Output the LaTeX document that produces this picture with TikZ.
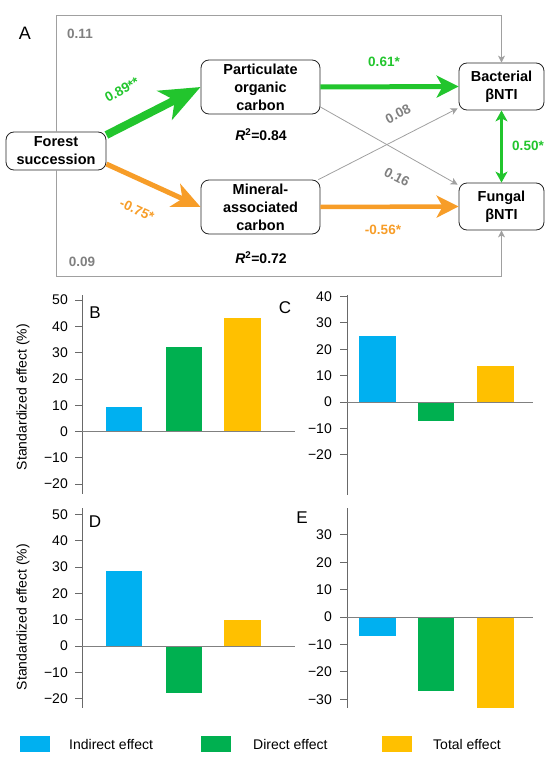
\documentclass[tikz,border=0pt]{standalone}
\usepackage{fontspec}
\setmainfont{Liberation Sans}
\usetikzlibrary{arrows.meta}
\definecolor{pgreen}{RGB}{34,197,45}
\definecolor{porange}{RGB}{247,157,40}
\definecolor{lgray}{RGB}{160,160,160}
\definecolor{tgray}{RGB}{128,128,128}
\definecolor{agray}{RGB}{105,105,105}
\definecolor{bblue}{RGB}{0,176,240}
\definecolor{bgreen}{RGB}{0,176,80}
\definecolor{byellow}{RGB}{255,192,0}
\newcommand{\ticknum}[1]{\ifnum#1<0 −\number\numexpr-#1\relax\else#1\fi}
\begin{document}
\begin{tikzpicture}[x=1pt,y=-1pt,
  varbox/.style={draw=black!85, line width=0.8pt, rounded corners=8pt, fill=white, align=center, inner sep=0pt,
    font=\bfseries\fontsize{14.5}{18}\selectfont},
  lab/.style={font=\bfseries\fontsize{13.5}{15}\selectfont, inner sep=0pt},
  thinarrow/.style={draw=lgray, line width=0.8pt, -{Stealth[length=7pt,width=7pt,inset=2pt]}},
  axisline/.style={draw=agray, line width=0.8pt},
  zeroline/.style={draw=tgray, line width=0.8pt},
  ticklab/.style={font=\fontsize{14}{16}\selectfont, inner sep=0pt, anchor=east},
  panlab/.style={font=\fontsize{17}{19}\selectfont, inner sep=0pt},
  ylab/.style={font=\fontsize{14}{16}\selectfont, rotate=90, inner sep=0pt},
  leglab/.style={font=\fontsize{14}{16}\selectfont, inner sep=0pt, anchor=west}
]
\useasboundingbox (0,0) rectangle (550,760);

% ---------------- Panel A ----------------
\node[panlab, font=\fontsize{18}{20}\selectfont] (labA) at (25,33) {A};

\node[varbox, minimum width=100pt, minimum height=38pt] (F) at (56,151) {Forest\\succession};
\node[varbox, minimum width=119pt, minimum height=54pt] (P) at (260.5,87) {Particulate\\organic\\carbon};
\node[varbox, minimum width=119pt, minimum height=54pt] (M) at (260.5,207) {Mineral-\\associated\\carbon};
\node[varbox, minimum width=85pt, minimum height=47pt] (Bac) at (501.5,86.5) {Bacterial\\βNTI};
\node[varbox, minimum width=85pt, minimum height=47pt] (Fun) at (501.5,206.5) {Fungal\\βNTI};

\coordinate (tl) at (56,15);
\coordinate (bl) at (56,276.5);
\draw[thinarrow] (F.north) -- (tl) -| (Bac.north);
\draw[thinarrow] (F.south) -- (bl) -| (Fun.south);

\draw[thinarrow] ([yshift=-20pt]P.east) -- ([shift={(-1pt,-2pt)}]Fun.north west);
\draw[thinarrow] ([xshift=-2pt]M.north east) -- ([shift={(-1pt,2pt)}]Bac.south west);

\draw[draw=pgreen, line width=8pt, -{Stealth[length=40pt,width=32pt,inset=11pt]}] ([yshift=16pt]F.east) -- (P.west);
\draw[draw=porange, line width=5pt, -{Stealth[length=28pt,width=25pt,inset=8pt]}] ([yshift=-13pt]F.east) -- (M.west);
\draw[draw=pgreen, line width=5pt, -{Stealth[length=22pt,width=22pt,inset=6pt]}] (P.east) -- (Bac.west);
\draw[draw=porange, line width=4.5pt, -{Stealth[length=22pt,width=22pt,inset=6pt]}] (M.east) -- (Fun.west);
\draw[draw=pgreen, line width=2.5pt, {Stealth[length=11pt,width=12pt,inset=3pt]}-{Stealth[length=11pt,width=12pt,inset=3pt]}] (Bac.south) -- (Fun.north);

\node[lab, text=tgray] (l11) at (80,34) {0.11};
\node[lab, text=tgray] (l09) at (82,262) {0.09};
\node[lab, text=pgreen, rotate=29] (l89) at (122,90) {0.89**};
\node[lab, text=porange, rotate=-25] (l75) at (137,210) {-0.75*};
\node[lab, text=pgreen] (l61) at (384,62) {0.61*};
\node[lab, text=porange] (l56) at (383,230) {-0.56*};
\node[lab, text=pgreen] (l50) at (528,146) {0.50*};
\node[lab, text=tgray, rotate=27] (l08) at (398,114) {0.08};
\node[lab, text=tgray, rotate=-27] (l16) at (397,177) {0.16};
\node[lab, font=\bfseries\fontsize{14}{16}\selectfont] (r1) at (261,135) {\textit{R}\textsuperscript{2}=0.84};
\node[lab, font=\bfseries\fontsize{14}{16}\selectfont] (r2) at (261,258) {\textit{R}\textsuperscript{2}=0.72};

% ---------------- Panel B ----------------
\draw[axisline] (82,295) -- (82,494);
\node[panlab] (labB) at (95,313) {B};
\node[ylab] (yB) at (23,397) {Standardized effect (\%)};
\begin{scope}[shift={(0,431.5)}, x={(1pt,0pt)}, y={(0pt,2.63pt)}]
  \foreach \v in {50,40,...,-20} {
    \draw[axisline] (75,\v) -- (82,\v);
    \node[ticklab] at (68,\v) {\ticknum{\v}};
  }
  \fill[bblue] (106,0) rectangle (142,9.3);
  \fill[bgreen] (166,0) rectangle (202,32.1);
  \fill[byellow] (224,0) rectangle (261,43.2);
  \draw[zeroline] (82,0) -- (295,0);
\end{scope}

% ---------------- Panel C ----------------
\draw[axisline] (347,295) -- (347,495);
\node[panlab] (labC) at (285,308) {C};
\begin{scope}[shift={(0,402)}, x={(1pt,0pt)}, y={(0pt,2.64pt)}]
  \foreach \v in {40,30,...,-20} {
    \draw[axisline] (340,\v) -- (347,\v);
    \node[ticklab] at (332,\v) {\ticknum{\v}};
  }
  \fill[bblue] (359,0) rectangle (396,25);
  \fill[bgreen] (418,0) rectangle (454,-7.2);
  \fill[byellow] (477,0) rectangle (514,13.6);
  \draw[zeroline] (347,0) -- (533,0);
\end{scope}

% ---------------- Panel D ----------------
\draw[axisline] (82,508) -- (82,708);
\node[panlab] (labD) at (95,522) {D};
\node[ylab] (yD) at (23,617) {Standardized effect (\%)};
\begin{scope}[shift={(0,646)}, x={(1pt,0pt)}, y={(0pt,2.63pt)}]
  \foreach \v in {50,40,...,-20} {
    \draw[axisline] (75,\v) -- (82,\v);
    \node[ticklab] at (68,\v) {\ticknum{\v}};
  }
  \fill[bblue] (106,0) rectangle (142,28.5);
  \fill[bgreen] (166,0) rectangle (202,-17.9);
  \fill[byellow] (224,0) rectangle (261,9.9);
  \draw[zeroline] (82,0) -- (295,0);
\end{scope}

% ---------------- Panel E ----------------
\draw[axisline] (347,508) -- (347,708);
\node[panlab] (labE) at (302,518) {E};
\begin{scope}[shift={(0,617)}, x={(1pt,0pt)}, y={(0pt,2.74pt)}]
  \foreach \v in {30,20,...,-30} {
    \draw[axisline] (340,\v) -- (347,\v);
    \node[ticklab] at (332,\v) {\ticknum{\v}};
  }
  \fill[bblue] (359,0) rectangle (396,-6.9);
  \fill[bgreen] (418,0) rectangle (454,-27);
  \fill[byellow] (477,0) rectangle (514,-33.2);
  \draw[zeroline] (347,0) -- (533,0);
\end{scope}

% ---------------- Legend ----------------
\fill[bblue] (20,736) rectangle (50,752);
\node[leglab] (lg1) at (69,744) {Indirect effect};
\fill[bgreen] (201,736) rectangle (231,752);
\node[leglab] (lg2) at (253,744) {Direct effect};
\fill[byellow] (382,736) rectangle (412,752);
\node[leglab] (lg3) at (433,744) {Total effect};
\end{tikzpicture}
\end{document}
